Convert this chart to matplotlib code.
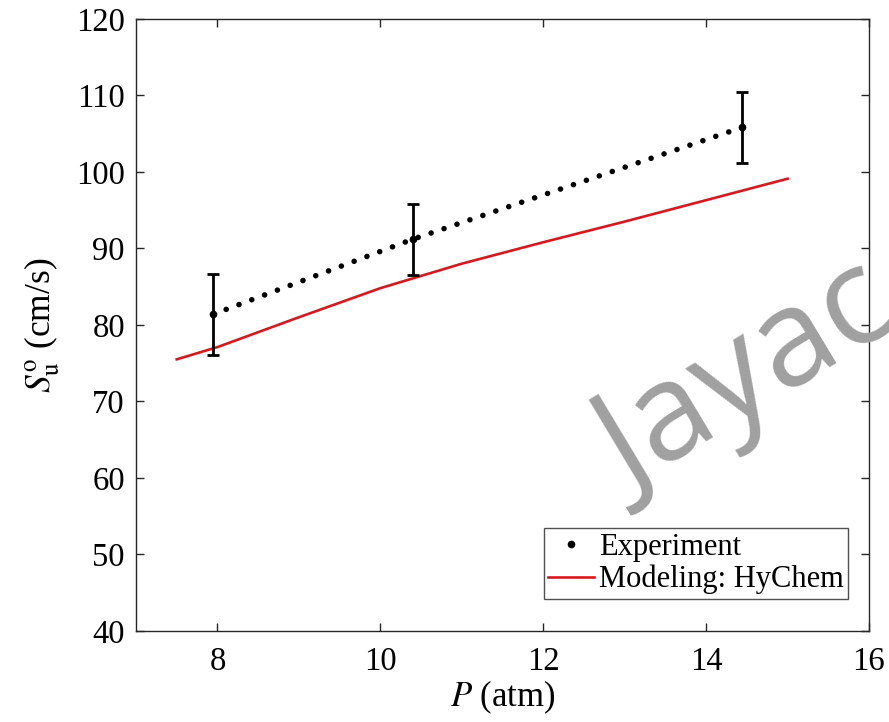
import matplotlib
matplotlib.use("Agg")
import matplotlib.pyplot as plt
from matplotlib.lines import Line2D

plt.rcParams['font.family'] = ['Liberation Serif', 'DejaVu Serif']
plt.rcParams['mathtext.fontset'] = 'stix'

# Experiment data
exp_p = [7.95, 10.40, 14.44]
exp_s = [81.4, 91.2, 105.8]
exp_err = [5.3, 4.65, 4.6]

# Modeling: HyChem
mod_p = [7.5, 8, 9, 10, 11, 12, 13, 14, 15]
mod_s = [75.5, 77.1, 81.0, 84.8, 88.0, 90.8, 93.5, 96.3, 99.1]

xticks = [8, 10, 12, 14, 16]
yticks = [40, 50, 60, 70, 80, 90, 100, 110, 120]

fig = plt.figure(figsize=(8.89, 7.22), dpi=100)
ax = fig.add_axes([0.153, 0.126, 0.8245, 0.848])

red = '#d7191f'
ax.plot(mod_p, mod_s, color=red, lw=1.9, zorder=2)
ax.plot(exp_p, exp_s, color='black', lw=4, linestyle=(0, (0.01, 2.45)),
        dash_capstyle='round', zorder=3)
ax.errorbar(exp_p, exp_s, yerr=exp_err, fmt='o', color='black', ms=4.5,
            elinewidth=2.0, capsize=4, capthick=2.0, zorder=4)

ax.set_xlim(7, 16)
ax.set_ylim(40, 120)
ax.set_xticks(xticks)
ax.set_yticks(yticks)
ax.tick_params(direction='in', length=6, width=1, labelsize=23.5,
               top=True, right=True, colors='#262626', labelcolor='black', pad=8)
ax.tick_params(axis='x', pad=11)
for sp in ax.spines.values():
    sp.set_color('#262626')
    sp.set_linewidth(1.0)

ax.set_xlabel(r'$P$ (atm)', fontsize=25, labelpad=1)
ax.set_ylabel(r'$S_{\mathrm{u}}^{\mathrm{o}}$ (cm/s)', fontsize=25.5, labelpad=10)

handles = [Line2D([], [], color='black', marker='o', ms=4.5, ls='none'),
           Line2D([], [], color=red, lw=1.9)]
leg = ax.legend(handles, ['Experiment', 'Modeling: HyChem'], loc='lower right',
                bbox_to_anchor=(0.9714, 0.0523), borderaxespad=0,
                fontsize=22, frameon=True, fancybox=False, edgecolor='#262626',
                handlelength=1.5, handletextpad=0.15, borderpad=0.15,
                labelspacing=0.1)
leg.get_frame().set_linewidth(1.0)

fig.text(0.708, 0.315, 'Jayac', fontsize=98, color='#a0a0a0',
         family='Open Sans', rotation=31, rotation_mode='anchor',
         ha='left', va='baseline', zorder=10)

fig.savefig('out.png', dpi=100)
